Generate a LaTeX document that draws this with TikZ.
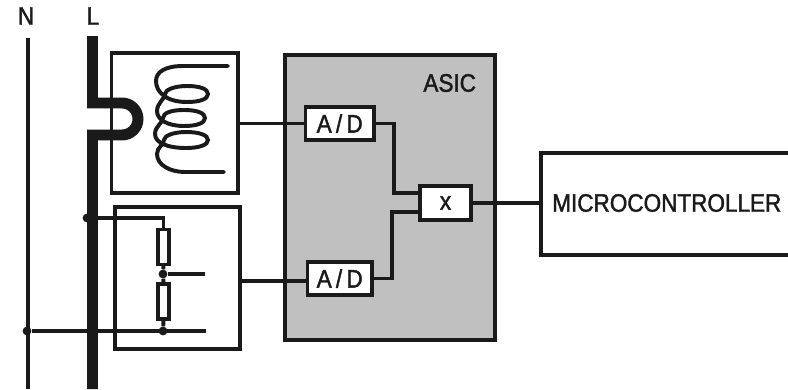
\documentclass[tikz,border=0pt]{standalone}
\usepackage{fontspec}
\setmainfont{Liberation Sans}
\newfontfamily\labelfont{Liberation Sans}[FakeStretch=0.89,FakeBold=1.6]
\definecolor{asicgray}{HTML}{C0C0C0}
\definecolor{inkdark}{HTML}{1A1A1A}
\tikzset{
    wire/.style={draw=inkdark,line width=2.8pt},
    blockbox/.style={draw=inkdark,line width=2.7pt,fill=white,inner sep=0pt,text=inkdark,font=\labelfont\fontsize{18}{20}\selectfont},
    resistorbox/.style={draw=inkdark,line width=2.3pt,fill=white,inner sep=0pt,minimum width=0.275cm,minimum height=0.87cm},
    junction/.style={circle,fill=inkdark,inner sep=0pt,minimum size=0.22cm},
    lbl/.style={text=inkdark,inner sep=0pt,font=\labelfont\fontsize{18}{20}\selectfont},
}
\begin{document}
\begin{tikzpicture}[x=0.025cm,y=-0.025cm]
    \useasboundingbox (0,0) rectangle (788,389);

    % Line and neutral
    \coordinate (ntop) at (28,38);
    \coordinate (nbot) at (28,389);
    \coordinate (ltop) at (92.5,36);
    \coordinate (lbot) at (92.5,389);
    \draw[wire,line width=2.4pt] (ntop) -- (nbot);

    % Blocks
    \node[blockbox,minimum width=3.16cm,minimum height=3.5cm] (coilbox) at (174.7,123) {};
    \node[blockbox,minimum width=3.125cm,minimum height=3.55cm] (dividerbox) at (177.5,278) {};
    \node[blockbox,fill=asicgray,minimum width=5.25cm,minimum height=7.125cm] (asic) at (390,197.5) {};
    \node[blockbox,minimum width=1.71cm,minimum height=0.825cm] (adtop) at (339.7,123.5) {A\,/\,D};
    \node[blockbox,minimum width=1.61cm,minimum height=0.825cm] (adbot) at (339.7,278.5) {A\,/\,D};
    \node[blockbox,minimum width=1.275cm,minimum height=0.85cm] (mult) at (445.5,203) {x};
    \node[blockbox,minimum width=6.4cm,minimum height=2.55cm,anchor=west] (micro) at (539,204) {};

    % Labels
    \node[lbl] (nlabel) at (26,16) {N};
    \node[lbl] (llabel) at (93,16) {L};
    \node[lbl] (asiclabel) at (449.7,83) {ASIC};
    \node[lbl,anchor=west] (microlabel) at (552,203) {MICROCONTROLLER};

    % Current loop
    \draw[wire,line width=7.8pt] (ltop) -- (92.5,103) -- (122,103)
        arc[start angle=-90,end angle=90,radius=16] -- (92.5,135) -- (lbot);

    % Coil
    \draw[wire,line cap=round] (228,66) -- (183,66)
        .. controls (165,66) and (156,72) .. (156,81)
        .. controls (156,92) and (166,102) .. (187,102)
        .. controls (200,102) and (208,99) .. (208,94)
        .. controls (208,89) and (200,86) .. (187,86)
        .. controls (174,86) and (165,90) .. (165,94)
        .. controls (165,99) and (157,103) .. (157,111)
        .. controls (157,120) and (168,126) .. (184,126)
        .. controls (197,126) and (205,123) .. (205,118)
        .. controls (205,113) and (197,110) .. (184,110)
        .. controls (171,110) and (163,113) .. (163,118)
        .. controls (163,123) and (155,126) .. (155,134)
        .. controls (155,143) and (168,148) .. (186,148)
        .. controls (199,148) and (208,145) .. (208,140)
        .. controls (208,135) and (199,132) .. (186,132)
        .. controls (173,132) and (164,136) .. (164,140)
        .. controls (164,145) and (157,147) .. (157,154)
        .. controls (157,165) and (170,172) .. (185,172) -- (224,172);

    % Divider
    \node[junction] (lnode) at (87,218) {};
    \node[junction] (nnode) at (27,331) {};
    \node[junction] (tapnode) at (163,274) {};
    \node[junction] (botnode) at (163,331) {};
    \node[resistorbox] (rtop) at (163.5,247) {};
    \node[resistorbox] (rbot) at (163.5,301.5) {};
    \coordinate (tapend) at (205,274);
    \coordinate (botend) at (206,331);
    \draw[wire] (lnode) -| (rtop.north);
    \draw[wire] (rtop.south) -- (tapnode) -- (rbot.north);
    \draw[wire] (rbot.south) -- (botnode);
    \draw[wire] (tapnode) -- (tapend);
    \draw[wire] (nnode) -- (botend);

    % Signal path
    \draw[wire] (coilbox.east |- adtop.west) -- (adtop.west);
    \draw[wire] (dividerbox.east |- 0,281) -- (adbot.west |- 0,281);
    \draw[wire] (adtop.east) -| (394,193) -- (mult.west |- 0,193);
    \draw[wire] (adbot.east) -| (392,212) -- (mult.west |- 0,212);
    \draw[wire,line width=3pt] (mult.east) -- (micro.west |- mult.east);
\end{tikzpicture}
\end{document}
